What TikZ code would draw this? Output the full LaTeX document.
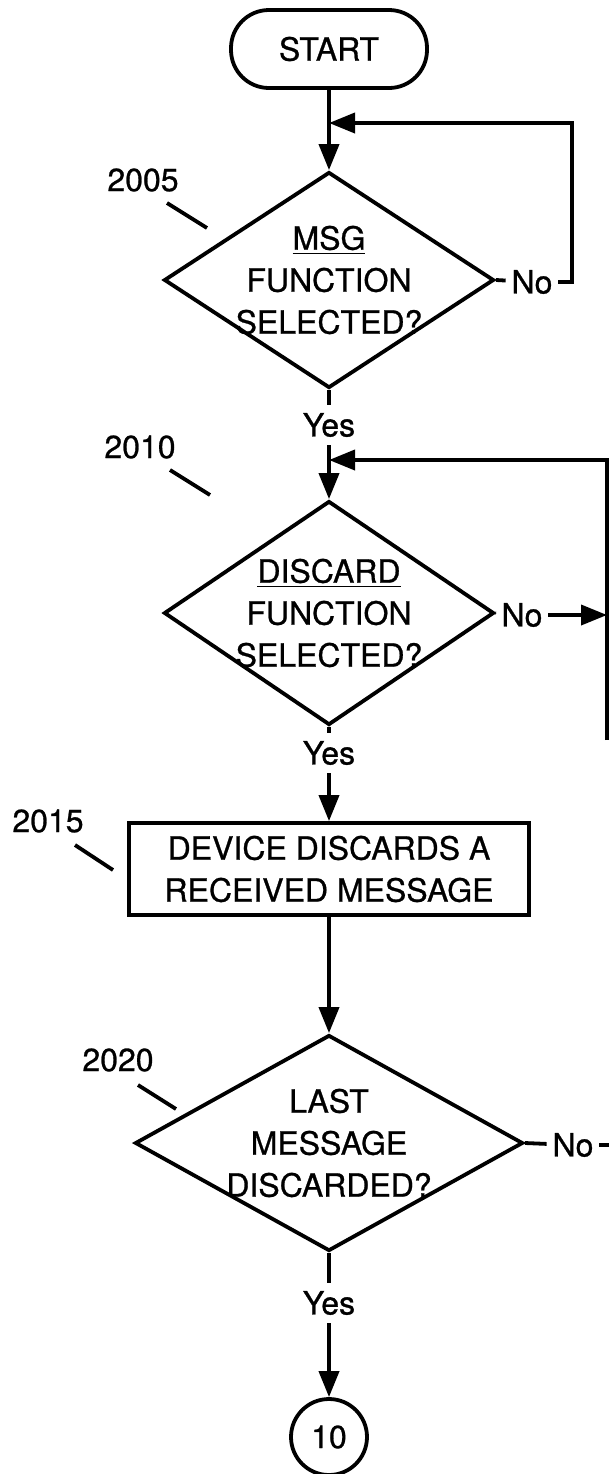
\documentclass[tikz,border=0pt]{standalone}
\usepackage{fontspec}
\setmainfont{TeX Gyre Heros}[FakeBold=0.8]
\usetikzlibrary{shapes.geometric,arrows.meta}

\begin{document}
\begin{tikzpicture}[x=0.5pt,y=-0.5pt,line width=1.9pt,
  font=\fontsize{16}{21}\selectfont,
  arr/.style={-{Triangle[length=13pt,width=10pt]}},
  terminal/.style={draw,rectangle,rounded corners=19pt,minimum width=98pt,minimum height=39pt},
  decision/.style={draw,diamond,inner sep=-5pt,align=center},
  process/.style={draw,rectangle,align=center,minimum width=200pt,minimum height=46pt},
  connector/.style={draw,circle,minimum size=38pt,inner sep=0pt},
  answer/.style={inner sep=2pt}]

\useasboundingbox (0,0) rectangle (609,1474);

% main column
\node[terminal] (start) at (329,49) {START};
\node[decision,shape aspect=1.5,minimum width=165pt,minimum height=108pt] (d2005) at (329,280) {\underline{MSG}\\FUNCTION\\SELECTED?};
\node (yes1) at (329,425) {Yes};
\node[decision,shape aspect=1.5,minimum width=165pt,minimum height=112pt] (d2010) at (329,613) {\underline{DISCARD}\\FUNCTION\\SELECTED?};
\node (yes2) at (329,753) {Yes};
\node[process] (p2015) at (329,869) {DEVICE DISCARDS A\\RECEIVED MESSAGE};
\node[decision,shape aspect=1.8,minimum width=194pt,minimum height=108pt] (d2020) at (329,1143) {LAST\\MESSAGE\\DISCARDED?};
\node (yes3) at (329,1303) {Yes};
\node[connector] (c10) at (329,1437) {10};

\draw[arr] (start) -- (d2005);
\draw (d2005) -- (yes1);
\draw[arr] (yes1) -- (d2010);
\draw (d2010) -- (yes2);
\draw[arr] (yes2) -- (p2015);
\draw[arr] (p2015) -- (d2020);
\draw (d2020) -- (yes3);
\draw[arr] (yes3) -- (c10);

% No branches
\node[answer] (no1) at (532,282) {No};
\coordinate (j1) at (329,123);
\coordinate (r1) at (572,123);
\draw (d2005.east) -- (no1);
\draw[arr] (no1.east) -| (r1) -- (j1);

\node[answer] (no2) at (522,615) {No};
\coordinate (j2) at (329,460);
\coordinate (r2) at (607,460);
\coordinate (r2b) at (607,740);
\draw (d2010.east) -- (no2);
\draw[arr] (no2.east) -- (no2.east -| r2);
\draw[arr] (r2b) -- (r2) -- (j2);

\node[answer] (no3) at (573,1145) {No};
\coordinate (r3) at (609,1145);
\draw (d2020.east) -- (no3);
\draw (no3.east) -- (r3);

% reference numbers
\node (n2005) at (143,180) {2005};
\draw (167,203) -- (207,228);
\node (n2010) at (140,447) {2010};
\draw (170,470) -- (210,495);
\node (n2015) at (48,821) {2015};
\draw (75,845) -- (113,870);
\node (n2020) at (118,1060) {2020};
\draw (138,1085) -- (176,1109);

\end{tikzpicture}
\end{document}
